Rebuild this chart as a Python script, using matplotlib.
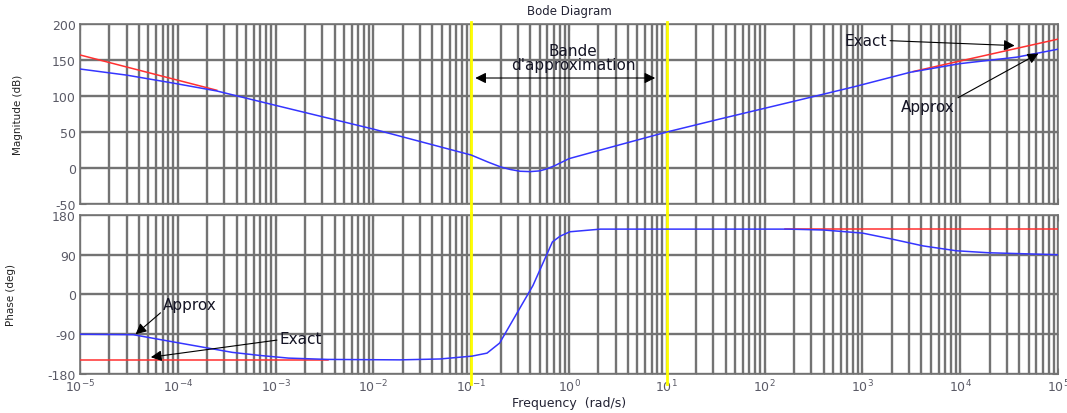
import numpy as np
import matplotlib
matplotlib.use('Agg')
from matplotlib import pyplot as plt
from matplotlib.ticker import LogLocator, NullFormatter, MultipleLocator

plt.rcParams['font.family'] = ['DejaVu Sans']
plt.rcParams['axes.unicode_minus'] = False

# magnitude, approximation (blue)
mag_w = [1e-5, 3.0e-5, 8.9e-5, 2.5e-4, 1e-3, 1e-2, 0.1, 0.15, 0.2, 0.25,
         0.316, 0.4, 0.5, 0.6, 0.72, 1.0, 2.1, 10, 34.7, 204, 832, 3090,
         1e4, 3.8e4, 1e5]
mag_approx = [137.5, 129, 118, 107, 87, 54, 18, 8, 1.5, -2,
              -4.5, -5, -4, -1, 3.5, 13, 25, 50, 68, 93, 113, 133,
              145, 154, 165]

# magnitude, exact (red)
mag_exact_lo_w = [1e-5, 2.5e-4]
mag_exact_lo = [157, 108]
mag_exact_hi_w = [3300, 1e5]
mag_exact_hi = [134, 179]

# phase, approximation (blue)
ph_w = [1e-5, 3.5e-5, 8.3e-5, 2.0e-4, 3.6e-4, 6.9e-4, 1.35e-3, 3.4e-3,
        1.86e-2, 4.8e-2, 0.102, 0.145, 0.195, 0.427, 0.676, 0.81, 1.02, 2.1,
        174, 400, 1000, 1950, 4170, 9100, 1.95e4, 1e5]
ph_approx = [-90, -91, -106, -121, -131, -138, -144, -147,
             -148, -146, -139.5, -132.75, -110, 20, 119, 132, 142, 148,
             148, 146, 139, 126, 110, 99, 94.5, 90]

# phase, exact (red)
ph_exact_lo_w = [1e-5, 3.4e-3]
ph_exact_lo = [-148.5, -148.5]
ph_exact_hi_w = [160, 1e5]
ph_exact_hi = [148.5, 148.5]

band = [0.1, 10]

fig = plt.figure(figsize=(10.67, 4.14), dpi=100)
ax1 = fig.add_axes([0.075, 0.5048, 0.9166, 0.4348])
ax2 = fig.add_axes([0.075, 0.0942, 0.9166, 0.3841])

gridc = '#737373'
for ax in (ax1, ax2):
    ax.set_xscale('log')
    ax.set_xlim(1e-5, 1e5)
    ax.xaxis.set_major_locator(LogLocator(base=10, numticks=20))
    ax.xaxis.set_minor_locator(LogLocator(base=10, subs=np.arange(2, 10), numticks=200))
    ax.xaxis.set_minor_formatter(NullFormatter())
    ax.grid(True, which='both', axis='x', color=gridc, lw=1.7)
    ax.grid(True, which='major', axis='y', color=gridc, lw=1.7)
    ax.tick_params(which='both', direction='in', colors='0.45', labelcolor='#5a5a66',
                   labelsize=9, top=True, right=True, width=0.8, pad=3)
    ax.tick_params(which='major', length=4)
    ax.tick_params(which='minor', length=2)
    for s in ax.spines.values():
        s.set_color('0.45')
        s.set_linewidth(1.2)
    for b in band:
        ax.axvline(b, color='#ffff00', lw=2.0, zorder=3, ymin=-0.065, ymax=1.01, clip_on=False)

ax1.set_ylim(-50, 200)
ax1.yaxis.set_major_locator(MultipleLocator(50))
ax1.xaxis.set_major_formatter(NullFormatter())
ax1.plot(mag_exact_lo_w, mag_exact_lo, color='#ff3030', lw=1.1, zorder=4)
ax1.plot(mag_exact_hi_w, mag_exact_hi, color='#ff3030', lw=1.1, zorder=4)
ax1.plot(mag_w, mag_approx, color='#3535ff', lw=1.1, zorder=5)
ax1.set_ylabel('Magnitude (dB)', fontsize=7.5, color='#222222')
ax1.yaxis.set_label_coords(-0.058, 0.5)
ax1.set_title('Bode Diagram', fontsize=8.5, color='#222233', pad=7)

ax2.set_ylim(-180, 180)
ax2.yaxis.set_major_locator(MultipleLocator(90))
ax2.plot(ph_exact_lo_w, ph_exact_lo, color='#ff3030', lw=1.1, zorder=4)
ax2.plot(ph_exact_hi_w, ph_exact_hi, color='#ff3030', lw=1.1, zorder=4)
ax2.plot(ph_w, ph_approx, color='#3535ff', lw=1.1, zorder=5)
ax2.set_ylabel('Phase (deg)', fontsize=7.5, color='#222222')
ax2.yaxis.set_label_coords(-0.065, 0.5)
ax2.set_xlabel('Frequency  (rad/s)', fontsize=9, color='#222233', labelpad=1)


def arrow(rel):
    return dict(arrowstyle='-|>', color='k', lw=0.8, mutation_scale=16,
                shrinkA=0, shrinkB=0, relpos=rel)


txt = dict(fontsize=11, color='#151525', zorder=6)

ax1.annotate('', xy=(0.11, 125), xytext=(7.6, 125),
             arrowprops=dict(arrowstyle='<|-|>', color='k', lw=0.8, mutation_scale=16,
                             shrinkA=0, shrinkB=0), zorder=6)
ax1.text(1.1, 153, "Bande\nd'approximation", ha='center', va='center',
         linespacing=0.9, **txt)

ax1.annotate('Exact', xy=(3.6e4, 170), xytext=(660, 177), va='center',
             arrowprops=arrow((1, 0.5)), **txt)
ax1.annotate('Approx', xy=(6.3e4, 159), xytext=(2500, 85), va='center',
             arrowprops=arrow((1, 1)), **txt)

ax2.annotate('Approx', xy=(3.7e-5, -90), xytext=(7.1e-5, -22.5), va='center',
             arrowprops=arrow((0, 0.1)), **txt)
ax2.annotate('Exact', xy=(5.3e-5, -142), xytext=(1.1e-3, -99), va='center',
             arrowprops=arrow((0, 0.4)), **txt)

fig.savefig('out.png', dpi=100)
